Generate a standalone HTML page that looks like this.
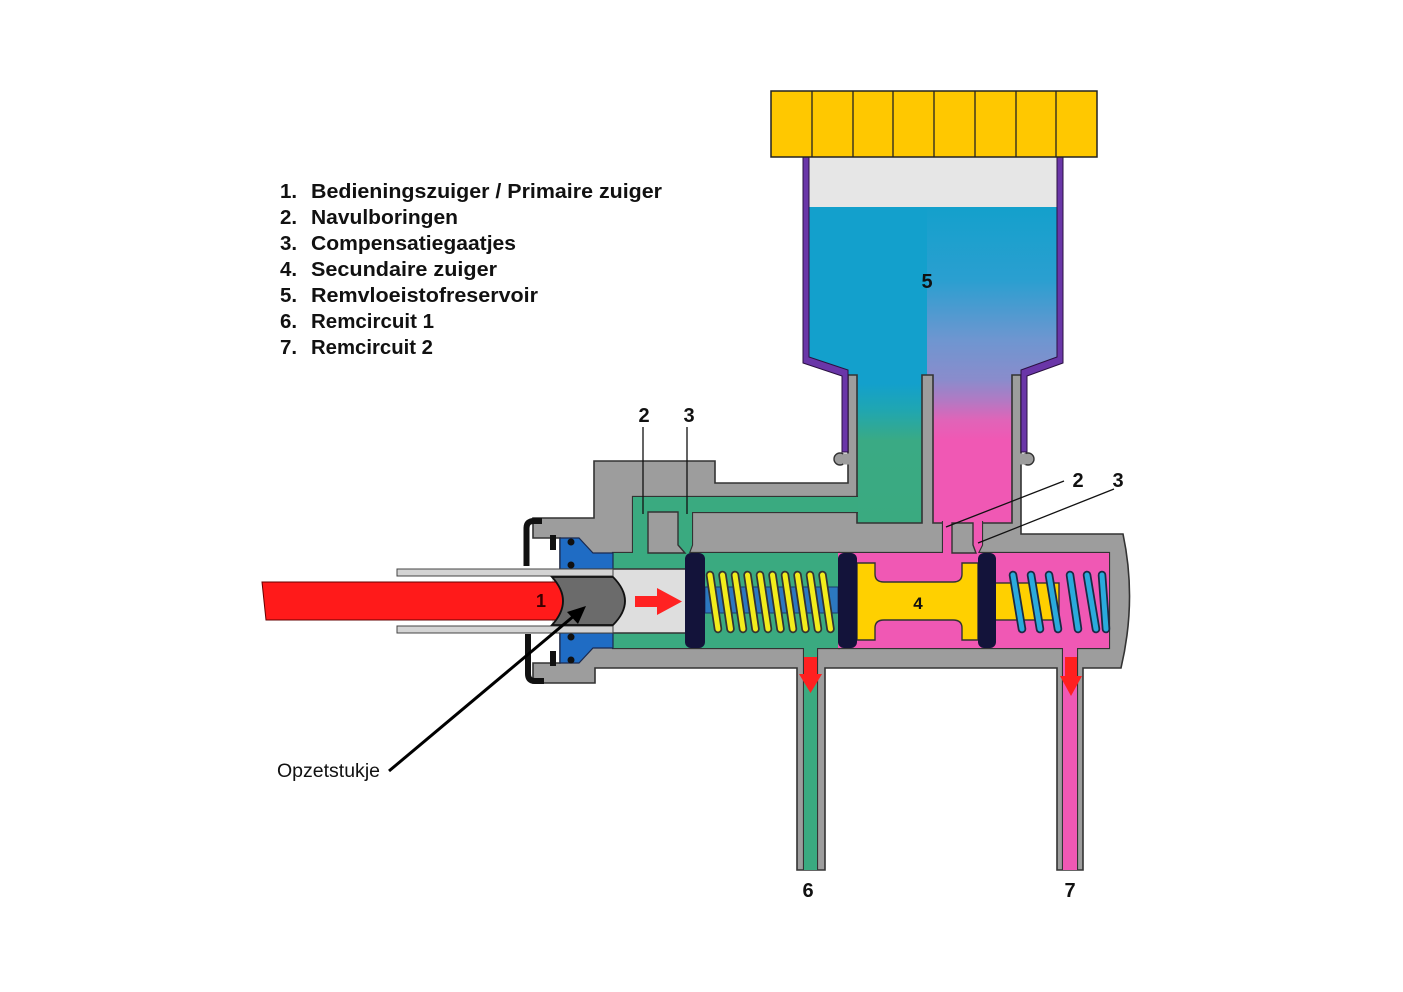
<!DOCTYPE html>
<html><head><meta charset="utf-8">
<style>
html,body{margin:0;padding:0;background:#fff;}
svg{display:block;}
</style></head>
<body>
<svg width="1403" height="992" viewBox="0 0 1403 992" xmlns="http://www.w3.org/2000/svg">
<defs>
<linearGradient id="gL" gradientUnits="userSpaceOnUse" x1="0" y1="207" x2="0" y2="523">
 <stop offset="0" stop-color="#13a0cc"/>
 <stop offset="0.56" stop-color="#13a0cc"/>
 <stop offset="0.64" stop-color="#1fa6b2"/>
 <stop offset="0.74" stop-color="#3aaa84"/>
 <stop offset="1" stop-color="#3aaa80"/>
</linearGradient>
<linearGradient id="gR" gradientUnits="userSpaceOnUse" x1="0" y1="207" x2="0" y2="523">
 <stop offset="0" stop-color="#14a0cc"/>
 <stop offset="0.23" stop-color="#2a9fd0"/>
 <stop offset="0.42" stop-color="#6e96d0"/>
 <stop offset="0.547" stop-color="#8a8ccc"/>
 <stop offset="0.61" stop-color="#b07ac4"/>
 <stop offset="0.674" stop-color="#e064b8"/>
 <stop offset="0.737" stop-color="#f058b4"/>
 <stop offset="1" stop-color="#f058b4"/>
</linearGradient>
</defs>

<!-- reservoir fluids -->
<polygon points="809,207 927,207 927,523 857,523 857,375 846,375 846,370 807,357" fill="url(#gL)"/>
<polygon points="927,207 1059,207 1059,357 1023,370 1023,375 1012,375 1012,523 927,523" fill="url(#gR)"/>
<rect x="809" y="157" width="248" height="50" fill="#e6e6e6"/>

<!-- body -->
<path d="M594,461 L715,461 L715,483 L848,483 L848,375 L857,375 L857,523 L922,523 L922,375 L933,375 L933,523 L1012,523 L1012,375 L1021,375 L1021,534 L1123,534 Q1137,600 1121,668 L1083,668 L1083,870 L1057,870 L1057,668 L825,668 L825,870 L797,870 L797,668 L595,668 L595,683 L533,683 L533,663 L560,663 L560,538 L533,538 L533,518 L594,518 Z" fill="#9d9d9d" stroke="#333" stroke-width="1.6" stroke-linejoin="miter"/>

<!-- bumps -->
<circle cx="840" cy="459" r="6" fill="#9d9d9d" stroke="#333" stroke-width="1.4"/>
<rect x="843" y="453.5" width="6" height="11" fill="#9d9d9d"/>
<circle cx="1028" cy="459" r="6" fill="#9d9d9d" stroke="#333" stroke-width="1.4"/>
<rect x="1020" y="453.5" width="6" height="11" fill="#9d9d9d"/>

<!-- purple reservoir walls -->
<path d="M803,157 L809,157 L809,357 L848,370 L848,452 L842,452 L842,376 L803,363 Z" fill="#6a36a8" stroke="#2a1040" stroke-width="1"/>
<path d="M1063,157 L1057,157 L1057,357 L1021,370 L1021,452 L1027,452 L1027,376 L1063,363 Z" fill="#6a36a8" stroke="#2a1040" stroke-width="1"/>

<!-- green fluid -->
<path d="M858,497 L633,497 L633,553 L613,553 L613,648 L804,648 L804,870 M817,870 L817,648 L840,648 M840,553 L689,553 L692,545 L692,512 L858,512" fill="none" stroke="#333" stroke-width="2.2"/>
<polygon points="633,497 858,497 858,512 692,512 692,545 689,553 840,553 840,648 817,648 817,870 804,870 804,648 613,648 613,553 633,553" fill="#3aaa80"/>
<polygon points="648,512 678,512 678,545 685,553 648,553" fill="#9d9d9d" stroke="#333" stroke-width="1.4"/>

<!-- pink fluid -->
<path d="M943,521 L943,553 L838,553 M838,648 L1063,648 L1063,870 M1077,870 L1077,648 L1109,648 L1109,553 L978,553 L982,545 L982,521" fill="none" stroke="#333" stroke-width="2.2"/>
<polygon points="943,521 982,521 982,545 978,553 1109,553 1109,648 1077,648 1077,870 1063,870 1063,648 838,648 838,553 943,553" fill="#f058b4"/>
<polygon points="952,523 973,523 973,545 976,553 952,553" fill="#9d9d9d" stroke="#333" stroke-width="1.4"/>

<!-- blue seals left -->
<polygon points="560,538 579,538 593,553 613,553 613,569 560,569" fill="#1f6cc4" stroke="#1a2a50" stroke-width="1.2"/>
<polygon points="560,633 613,633 613,648 593,648 579,663 560,663" fill="#1f6cc4" stroke="#1a2a50" stroke-width="1.2"/>
<circle cx="571" cy="542" r="3.5" fill="#111"/>
<circle cx="571" cy="565" r="3.5" fill="#111"/>
<circle cx="571" cy="637" r="3.5" fill="#111"/>
<circle cx="571" cy="660" r="3.5" fill="#111"/>

<!-- light grey bore -->
<rect x="552" y="569" width="133" height="64" fill="#dedede"/>
<line x1="613" y1="569" x2="686" y2="569" stroke="#333" stroke-width="1.4"/>
<line x1="613" y1="633" x2="686" y2="633" stroke="#333" stroke-width="1.4"/>

<!-- rails -->
<rect x="397" y="569" width="216" height="7" fill="#d4d4d4" stroke="#444" stroke-width="1"/>
<rect x="397" y="626" width="216" height="7" fill="#d4d4d4" stroke="#444" stroke-width="1"/>

<!-- red rod -->
<polygon points="262,582 566,582 566,620 266,620" fill="#ff1a1a" stroke="#600" stroke-width="1"/>
<!-- opzetstukje piece -->
<path d="M552,577 L613,577 Q637,601 613,625 L552,625 Q574,601 552,577 Z" fill="#6b6b6b" stroke="#111" stroke-width="1.8"/>

<!-- red arrow primary -->
<polygon points="635,596 657,596 657,588 682,601.5 657,615 657,607 635,607" fill="#ff2222"/>

<!-- outlet arrows -->
<polygon points="804,657 817,657 817,674 822,674 810.5,693 799,674 804,674" fill="#ff2020"/>
<polygon points="1065,657 1077,657 1077,676 1082,676 1071,696 1060,676 1065,676" fill="#ff2020"/>

<!-- blue rod primary chamber -->
<rect x="705" y="587" width="133" height="26" fill="#2c78c0" stroke="#1a3a6a" stroke-width="1"/>

<!-- yellow coils -->
<g stroke-linecap="round">
<g stroke="#333" stroke-width="8.5">
<line x1="710" y1="575" x2="718" y2="629"/>
<line x1="722.5" y1="575" x2="730.5" y2="629"/>
<line x1="735" y1="575" x2="743" y2="629"/>
<line x1="747.5" y1="575" x2="755.5" y2="629"/>
<line x1="760" y1="575" x2="768" y2="629"/>
<line x1="772.5" y1="575" x2="780.5" y2="629"/>
<line x1="785" y1="575" x2="793" y2="629"/>
<line x1="797.5" y1="575" x2="805.5" y2="629"/>
<line x1="810" y1="575" x2="818" y2="629"/>
<line x1="822.5" y1="575" x2="830.5" y2="629"/>
</g>
<g stroke="#f2ec1c" stroke-width="5">
<line x1="710" y1="575" x2="718" y2="629"/>
<line x1="722.5" y1="575" x2="730.5" y2="629"/>
<line x1="735" y1="575" x2="743" y2="629"/>
<line x1="747.5" y1="575" x2="755.5" y2="629"/>
<line x1="760" y1="575" x2="768" y2="629"/>
<line x1="772.5" y1="575" x2="780.5" y2="629"/>
<line x1="785" y1="575" x2="793" y2="629"/>
<line x1="797.5" y1="575" x2="805.5" y2="629"/>
<line x1="810" y1="575" x2="818" y2="629"/>
<line x1="822.5" y1="575" x2="830.5" y2="629"/>
</g>
</g>

<!-- secondary piston -->
<path d="M857,563 L875,563 L875,574 Q875,582 884,582 L953,582 Q962,582 962,574 L962,563 L978,563 L978,640 L962,640 L962,628 Q962,620 953,620 L884,620 Q875,620 875,628 L875,640 L857,640 Z" fill="#ffd000" stroke="#333" stroke-width="1.4"/>
<rect x="995" y="583" width="64" height="37" fill="#ffd000" stroke="#333" stroke-width="1.4"/>

<!-- blue coils -->
<g stroke-linecap="round">
<g stroke="#1a2a44" stroke-width="8.5">
<line x1="1013" y1="575" x2="1022" y2="629"/>
<line x1="1031" y1="575" x2="1040" y2="629"/>
<line x1="1049" y1="575" x2="1058" y2="629"/>
<line x1="1070" y1="575" x2="1078" y2="629"/>
<line x1="1087" y1="575" x2="1096" y2="629"/>
<line x1="1102" y1="575" x2="1106" y2="629"/>
</g>
<g stroke="#2aaadc" stroke-width="5">
<line x1="1013" y1="575" x2="1022" y2="629"/>
<line x1="1031" y1="575" x2="1040" y2="629"/>
<line x1="1049" y1="575" x2="1058" y2="629"/>
<line x1="1070" y1="575" x2="1078" y2="629"/>
<line x1="1087" y1="575" x2="1096" y2="629"/>
<line x1="1102" y1="575" x2="1106" y2="629"/>
</g>
</g>

<!-- navy seals -->
<rect x="685" y="553" width="20" height="95" rx="6" fill="#13133a"/>
<rect x="838" y="553" width="19" height="95" rx="6" fill="#13133a"/>
<rect x="978" y="553" width="18" height="95" rx="6" fill="#13133a"/>

<!-- black brackets -->
<path d="M526.5,566 L526.5,528 Q526.5,521 534,521 L542,521" fill="none" stroke="#111" stroke-width="6"/>
<rect x="550" y="535" width="6" height="15" fill="#111"/>
<path d="M528,634 L528,674 Q528,681 535,681 L544,681" fill="none" stroke="#111" stroke-width="6"/>
<rect x="550" y="651" width="6" height="15" fill="#111"/>

<!-- cap -->
<rect x="771" y="91" width="326" height="66" fill="#ffc800" stroke="#222" stroke-width="1.5"/>
<g stroke="#222" stroke-width="1.3">
<line x1="812" y1="91" x2="812" y2="157"/>
<line x1="853" y1="91" x2="853" y2="157"/>
<line x1="893" y1="91" x2="893" y2="157"/>
<line x1="934" y1="91" x2="934" y2="157"/>
<line x1="975" y1="91" x2="975" y2="157"/>
<line x1="1016" y1="91" x2="1016" y2="157"/>
<line x1="1056" y1="91" x2="1056" y2="157"/>
</g>

<!-- leader lines -->
<g stroke="#111" stroke-width="1.3">
<line x1="643" y1="427" x2="643" y2="514"/>
<line x1="687" y1="427" x2="687" y2="514"/>
<line x1="1064" y1="481" x2="946" y2="527"/>
<line x1="1114" y1="489" x2="978" y2="543"/>
</g>

<!-- Opzetstukje arrow -->
<line x1="389" y1="771" x2="575" y2="615" stroke="#000" stroke-width="3"/>
<polygon points="586,606 567,612 578,624" fill="#000"/>

<!-- labels -->
<g font-family="Liberation Sans, Arial, sans-serif" font-weight="bold" fill="#111" font-size="20">
<text x="644" y="422" text-anchor="middle">2</text>
<text x="689" y="422" text-anchor="middle">3</text>
<text x="1078" y="487" text-anchor="middle">2</text>
<text x="1118" y="487" text-anchor="middle">3</text>
<text x="927" y="288" text-anchor="middle">5</text>
<text x="808" y="897" text-anchor="middle">6</text>
<text x="1070" y="897" text-anchor="middle">7</text>
<text x="918" y="609" text-anchor="middle" font-size="17">4</text>
<text x="541" y="607" text-anchor="middle" font-size="18" fill="#3a0000">1</text>
</g>

<g font-family="Liberation Sans, Arial, sans-serif" font-weight="bold" fill="#111" font-size="20.5">
<text x="280" y="198">1.</text>
<text x="311" y="198" textLength="351" lengthAdjust="spacingAndGlyphs">Bedieningszuiger / Primaire zuiger</text>
<text x="280" y="224">2.</text>
<text x="311" y="224" textLength="147" lengthAdjust="spacingAndGlyphs">Navulboringen</text>
<text x="280" y="250">3.</text>
<text x="311" y="250" textLength="205" lengthAdjust="spacingAndGlyphs">Compensatiegaatjes</text>
<text x="280" y="276">4.</text>
<text x="311" y="276" textLength="186" lengthAdjust="spacingAndGlyphs">Secundaire zuiger</text>
<text x="280" y="302">5.</text>
<text x="311" y="302" textLength="227" lengthAdjust="spacingAndGlyphs">Remvloeistofreservoir</text>
<text x="280" y="328">6.</text>
<text x="311" y="328" textLength="123" lengthAdjust="spacingAndGlyphs">Remcircuit 1</text>
<text x="280" y="354">7.</text>
<text x="311" y="354" textLength="122" lengthAdjust="spacingAndGlyphs">Remcircuit 2</text>
</g>

<text x="277" y="777" font-family="Liberation Sans, Arial, sans-serif" font-size="19.5" fill="#111" textLength="103" lengthAdjust="spacingAndGlyphs">Opzetstukje</text>
</svg>
</body></html>
